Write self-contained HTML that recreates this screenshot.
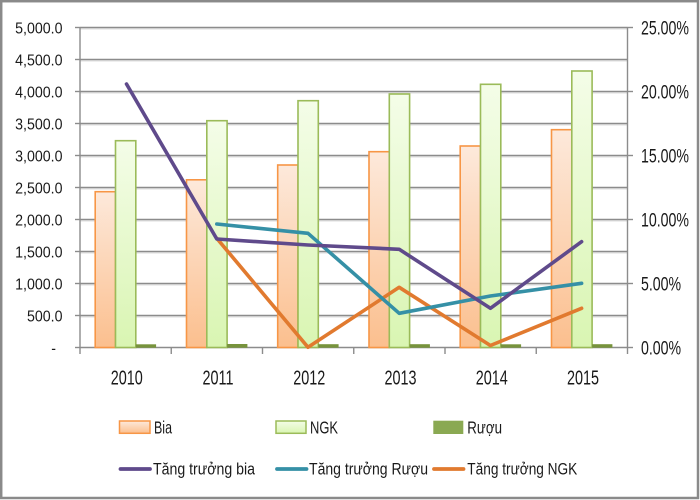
<!DOCTYPE html>
<html>
<head>
<meta charset="utf-8">
<style>
  html,body{margin:0;padding:0;background:#fff;}
  svg{display:block;}
  text{font-family:"Liberation Sans", Arial, sans-serif; fill:#1a1a1a;}
</style>
</head>
<body>
<svg width="700" height="500" viewBox="0 0 700 500" xmlns="http://www.w3.org/2000/svg">
  <defs>
    <linearGradient id="gBia" x1="0" y1="0" x2="0" y2="1">
      <stop offset="0" stop-color="#fde9db"/>
      <stop offset="1" stop-color="#fbbf8e"/>
    </linearGradient>
    <linearGradient id="gNgk" x1="0" y1="0" x2="0" y2="1">
      <stop offset="0" stop-color="#f4fde8"/>
      <stop offset="1" stop-color="#d9f5b2"/>
    </linearGradient>
  </defs>
  <rect x="0" y="0" width="700" height="500" fill="#fff"/>
  <rect x="1.2" y="1.2" width="696.8" height="496.8" fill="none" stroke="#8a8a8a" stroke-width="2.5"/>

  <!-- gridlines -->
  <g stroke="#8c8c8c" stroke-width="1.4">
    <line x1="80" y1="27.5" x2="627.5" y2="27.5"/>
    <line x1="80" y1="59.5" x2="627.5" y2="59.5"/>
    <line x1="80" y1="91.5" x2="627.5" y2="91.5"/>
    <line x1="80" y1="123.5" x2="627.5" y2="123.5"/>
    <line x1="80" y1="155.5" x2="627.5" y2="155.5"/>
    <line x1="80" y1="187.5" x2="627.5" y2="187.5"/>
    <line x1="80" y1="219.5" x2="627.5" y2="219.5"/>
    <line x1="80" y1="251.5" x2="627.5" y2="251.5"/>
    <line x1="80" y1="283.5" x2="627.5" y2="283.5"/>
    <line x1="80" y1="315.5" x2="627.5" y2="315.5"/>
  </g>
  <g stroke="#dcdcdc" stroke-width="1">
    <line x1="80" y1="29" x2="627.5" y2="29"/>
    <line x1="80" y1="61" x2="627.5" y2="61"/>
    <line x1="80" y1="93" x2="627.5" y2="93"/>
    <line x1="80" y1="125" x2="627.5" y2="125"/>
    <line x1="80" y1="157" x2="627.5" y2="157"/>
    <line x1="80" y1="189" x2="627.5" y2="189"/>
    <line x1="80" y1="221" x2="627.5" y2="221"/>
    <line x1="80" y1="253" x2="627.5" y2="253"/>
    <line x1="80" y1="285" x2="627.5" y2="285"/>
    <line x1="80" y1="317" x2="627.5" y2="317"/>
  </g>

  <!-- axes -->
  <g stroke="#8c8c8c" stroke-width="1.4">
    <line x1="80" y1="27.5" x2="80" y2="354"/>
    <line x1="627.5" y1="27.5" x2="627.5" y2="354"/>
    <line x1="80" y1="347.5" x2="627.5" y2="347.5"/>
    <line x1="75" y1="27.5" x2="80" y2="27.5"/>
    <line x1="75" y1="59.5" x2="80" y2="59.5"/>
    <line x1="75" y1="91.5" x2="80" y2="91.5"/>
    <line x1="75" y1="123.5" x2="80" y2="123.5"/>
    <line x1="75" y1="155.5" x2="80" y2="155.5"/>
    <line x1="75" y1="187.5" x2="80" y2="187.5"/>
    <line x1="75" y1="219.5" x2="80" y2="219.5"/>
    <line x1="75" y1="251.5" x2="80" y2="251.5"/>
    <line x1="75" y1="283.5" x2="80" y2="283.5"/>
    <line x1="75" y1="315.5" x2="80" y2="315.5"/>
    <line x1="75" y1="347.5" x2="80" y2="347.5"/>
    <line x1="627.5" y1="27.5" x2="633" y2="27.5"/>
    <line x1="627.5" y1="91.5" x2="633" y2="91.5"/>
    <line x1="627.5" y1="155.5" x2="633" y2="155.5"/>
    <line x1="627.5" y1="219.5" x2="633" y2="219.5"/>
    <line x1="627.5" y1="283.5" x2="633" y2="283.5"/>
    <line x1="627.5" y1="347.5" x2="633" y2="347.5"/>
    <line x1="171.25" y1="347.5" x2="171.25" y2="354"/>
    <line x1="262.5" y1="347.5" x2="262.5" y2="354"/>
    <line x1="353.75" y1="347.5" x2="353.75" y2="354"/>
    <line x1="445" y1="347.5" x2="445" y2="354"/>
    <line x1="536.25" y1="347.5" x2="536.25" y2="354"/>
  </g>

  <!-- Bia bars -->
  <g fill="url(#gBia)" stroke="#f79646" stroke-width="1.6">
    <rect x="95.2" y="191.7" width="20.3" height="155.8"/>
    <rect x="186.5" y="179.8" width="20.3" height="167.7"/>
    <rect x="277.7" y="165" width="20.3" height="182.5"/>
    <rect x="369" y="151.7" width="20.3" height="195.8"/>
    <rect x="460.2" y="146" width="20.3" height="201.5"/>
    <rect x="551.5" y="129.7" width="20.3" height="217.8"/>
  </g>
  <!-- NGK bars -->
  <g fill="url(#gNgk)" stroke="#9bbb59" stroke-width="1.6">
    <rect x="115.5" y="140.7" width="20.3" height="206.8"/>
    <rect x="206.8" y="120.7" width="20.3" height="226.8"/>
    <rect x="298" y="100.7" width="20.3" height="246.8"/>
    <rect x="389.3" y="94" width="20.3" height="253.5"/>
    <rect x="480.5" y="84.3" width="20.3" height="263.2"/>
    <rect x="571.8" y="71" width="20.3" height="276.5"/>
  </g>
  <!-- Ruou bars -->
  <g fill="#77933c">
    <rect x="135.8" y="344.3" width="20.3" height="3.4"/>
    <rect x="227.1" y="344" width="20.3" height="3.7"/>
    <rect x="318.3" y="344.2" width="20.3" height="3.5"/>
    <rect x="409.6" y="344.2" width="20.3" height="3.5"/>
    <rect x="500.8" y="344.3" width="20.3" height="3.4"/>
    <rect x="592.1" y="344.2" width="20.3" height="3.5"/>
  </g>

  <!-- lines -->
  <g fill="none" stroke-width="3.6" stroke-linejoin="round" stroke-linecap="round">
    <polyline stroke="#e17a2f" points="216.8,238.3 308,347.3 399.2,287.3 490.4,345.5 581.6,308.3"/>
    <polyline stroke="#3590a6" points="216.8,224 308,233.3 399.2,313.3 490.4,296 581.6,283.3"/>
    <polyline stroke="#5f4a8b" points="126.5,84 216.8,239 308,245 399.2,249.3 490.4,308.3 581.6,241.7"/>
  </g>

  <!-- left axis labels -->
  <g font-size="14.2" text-anchor="end">
    <text transform="translate(62.5,33.4) scale(1,1.11)">5,000.0</text>
    <text transform="translate(62.5,65.4) scale(1,1.11)">4,500.0</text>
    <text transform="translate(62.5,97.4) scale(1,1.11)">4,000.0</text>
    <text transform="translate(62.5,129.4) scale(1,1.11)">3,500.0</text>
    <text transform="translate(62.5,161.4) scale(1,1.11)">3,000.0</text>
    <text transform="translate(62.5,193.4) scale(1,1.11)">2,500.0</text>
    <text transform="translate(62.5,225.4) scale(1,1.11)">2,000.0</text>
    <text transform="translate(62.5,257.4) scale(1,1.11)">1,500.0</text>
    <text transform="translate(62.5,289.4) scale(1,1.11)">1,000.0</text>
    <text transform="translate(62.5,321.4) scale(1,1.11)">500.0</text>
    <text transform="translate(56,353.4) scale(1,1.11)">-</text>
  </g>

  <!-- right axis labels -->
  <g font-size="14.15" text-anchor="start">
    <text transform="translate(641,34.7) scale(1,1.38)">25.00%</text>
    <text transform="translate(641,98.7) scale(1,1.38)">20.00%</text>
    <text transform="translate(641,162.7) scale(1,1.38)">15.00%</text>
    <text transform="translate(641,226.7) scale(1,1.38)">10.00%</text>
    <text transform="translate(641,290.7) scale(1,1.38)">5.00%</text>
    <text transform="translate(641,354.7) scale(1,1.38)">0.00%</text>
  </g>

  <!-- category labels -->
  <g font-size="14.4" text-anchor="middle">
    <text transform="translate(126.8,384.3) scale(1,1.44)">2010</text>
    <text transform="translate(218,384.3) scale(1,1.44)">2011</text>
    <text transform="translate(309.2,384.3) scale(1,1.44)">2012</text>
    <text transform="translate(400.5,384.3) scale(1,1.44)">2013</text>
    <text transform="translate(491.7,384.3) scale(1,1.44)">2014</text>
    <text transform="translate(583,384.3) scale(1,1.44)">2015</text>
  </g>

  <!-- legend -->
  <rect x="119.5" y="421" width="30.5" height="12.3" fill="url(#gBia)" stroke="#f79646" stroke-width="1.5"/>
  <rect x="276" y="421" width="30" height="12.3" fill="url(#gNgk)" stroke="#9bbb59" stroke-width="1.5"/>
  <rect x="433.3" y="420.7" width="30" height="13.3" fill="#8aa952"/>
  <g font-size="14">
    <text transform="translate(154,433.3) scale(1,1.25)" textLength="18" lengthAdjust="spacingAndGlyphs">Bia</text>
    <text transform="translate(310,433.3) scale(1,1.25)" textLength="28" lengthAdjust="spacingAndGlyphs">NGK</text>
    <text transform="translate(467.3,433.3) scale(1,1.25)" textLength="34.7" lengthAdjust="spacingAndGlyphs">Rượu</text>
  </g>
  <g stroke-width="3.8" stroke-linecap="round">
    <line x1="120.5" y1="469" x2="150" y2="469" stroke="#5f4a8b"/>
    <line x1="277" y1="469" x2="306.5" y2="469" stroke="#3590a6"/>
    <line x1="434" y1="469" x2="463.5" y2="469" stroke="#e17a2f"/>
  </g>
  <g font-size="14">
    <text transform="translate(153,474.5) scale(1,1.2)" textLength="102" lengthAdjust="spacingAndGlyphs">Tăng trưởng bia</text>
    <text transform="translate(309,474.5) scale(1,1.2)" textLength="119" lengthAdjust="spacingAndGlyphs">Tăng trưởng Rượu</text>
    <text transform="translate(467.3,474.5) scale(1,1.2)" textLength="110" lengthAdjust="spacingAndGlyphs">Tăng trưởng NGK</text>
  </g>
</svg>
</body>
</html>
